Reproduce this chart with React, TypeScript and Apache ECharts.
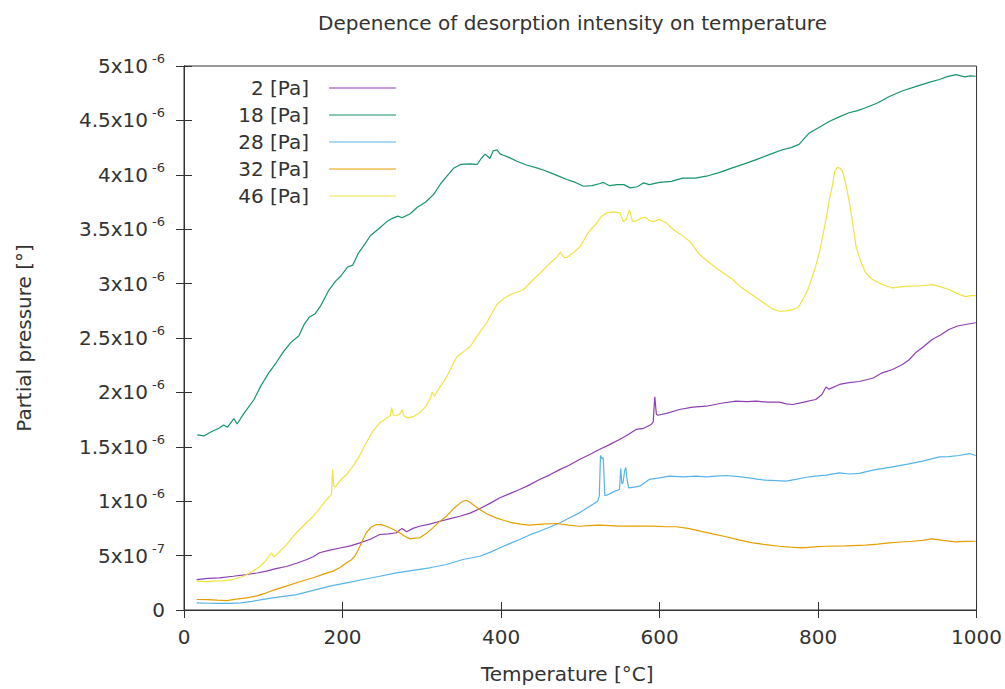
import React, { useEffect, useRef } from "react";
import * as echarts from "echarts";

// Values are in units of 1e-6 (partial pressure), temperatures in °C
const seriesNames = ["2 [Pa]", "18 [Pa]", "28 [Pa]", "32 [Pa]", "46 [Pa]"];
const seriesColors = ["#8e3fb3", "#16956b", "#56b4e9", "#e69f00", "#f0e442"];

const t2 = [16, 30, 45, 62, 79, 92, 104, 116, 129, 142, 155, 163, 171, 184, 197, 210, 222, 235, 247, 258, 268, 275, 281, 289, 297, 310, 323, 336, 348, 361, 373, 386, 398, 411, 423.5, 436, 448.6, 461, 474, 486, 499, 512, 524, 537, 549.5, 560, 570.5, 580, 589.5, 592, 594, 596, 598, 610, 625, 642, 659, 678, 696.5, 710, 722, 736, 751, 760, 768, 782, 797, 805, 810, 814, 827, 839, 852, 869, 881, 894, 906.5, 915, 923, 933, 944, 955, 965, 976, 986, 999];
const v2 = [0.28, 0.29, 0.296, 0.31, 0.326, 0.34, 0.357, 0.38, 0.4, 0.43, 0.464, 0.49, 0.526, 0.55, 0.57, 0.59, 0.617, 0.65, 0.694, 0.7, 0.71, 0.75, 0.72, 0.75, 0.77, 0.79, 0.816, 0.84, 0.862, 0.89, 0.93, 0.98, 1.03, 1.07, 1.108, 1.15, 1.2, 1.24, 1.29, 1.33, 1.383, 1.43, 1.475, 1.52, 1.567, 1.61, 1.66, 1.67, 1.705, 1.73, 1.96, 1.8, 1.79, 1.81, 1.843, 1.865, 1.873, 1.9, 1.919, 1.915, 1.919, 1.91, 1.91, 1.895, 1.889, 1.91, 1.935, 1.98, 2.05, 2.03, 2.073, 2.09, 2.1, 2.13, 2.18, 2.21, 2.256, 2.3, 2.364, 2.42, 2.486, 2.53, 2.578, 2.61, 2.624, 2.64];

const t18 = [16.8, 25, 35, 44, 50, 55, 63, 67, 75, 88, 97, 107, 116, 126, 135, 145, 152, 158, 165, 172, 182, 191, 198, 206, 213, 220, 228, 235, 245, 256, 263, 270, 275, 285, 294, 305, 315, 324, 332, 340, 349, 360, 370, 375, 380, 386, 390, 395, 399, 403, 410, 420, 432, 445, 455, 462, 472, 483, 494, 504, 515, 525, 529, 537, 546, 555, 563, 572, 580, 587, 600, 615, 629, 645, 659, 675, 692, 707, 722, 740, 755, 766, 776, 789, 800, 814, 826, 839, 850, 860, 875, 890, 906, 923, 940, 953, 962, 974, 985, 992, 999];
const v18 = [1.61, 1.6, 1.64, 1.67, 1.7, 1.68, 1.76, 1.71, 1.8, 1.93, 2.06, 2.18, 2.27, 2.38, 2.46, 2.52, 2.63, 2.69, 2.72, 2.79, 2.93, 3.02, 3.07, 3.15, 3.17, 3.28, 3.36, 3.44, 3.5, 3.57, 3.6, 3.62, 3.605, 3.64, 3.7, 3.75, 3.82, 3.92, 3.99, 4.06, 4.095, 4.1, 4.095, 4.15, 4.19, 4.15, 4.22, 4.23, 4.19, 4.18, 4.16, 4.125, 4.09, 4.064, 4.04, 4.02, 3.99, 3.957, 3.93, 3.895, 3.9, 3.92, 3.93, 3.9, 3.91, 3.91, 3.88, 3.89, 3.926, 3.91, 3.93, 3.94, 3.97, 3.97, 3.987, 4.02, 4.064, 4.1, 4.14, 4.19, 4.23, 4.25, 4.28, 4.385, 4.43, 4.49, 4.53, 4.57, 4.59, 4.616, 4.66, 4.72, 4.77, 4.81, 4.85, 4.876, 4.9, 4.92, 4.9, 4.91, 4.906];

const t28 = [16, 30, 44, 58, 72, 86, 100, 121, 142, 163, 184, 205, 226, 247, 268, 289, 310, 331, 352, 373, 386, 398, 411, 423.5, 436, 448.6, 461, 474, 486, 499, 511, 522, 524, 525.5, 527.5, 529, 531, 535, 543, 549.5, 551, 552.5, 554, 556, 557.5, 559, 561, 568, 575, 587, 600, 612.5, 630, 646, 659, 671, 684, 700, 713, 725, 734, 747, 759.5, 772, 785, 797, 810, 827, 840, 852, 869, 881, 894, 913, 932, 953, 965, 978, 991, 999];
const v28 = [0.066, 0.062, 0.06, 0.06, 0.065, 0.08, 0.097, 0.12, 0.142, 0.18, 0.219, 0.25, 0.28, 0.31, 0.342, 0.365, 0.388, 0.418, 0.464, 0.494, 0.53, 0.57, 0.61, 0.648, 0.69, 0.724, 0.76, 0.8, 0.845, 0.893, 0.95, 1.0, 1.05, 1.42, 1.39, 1.4, 1.05, 1.06, 1.09, 1.108, 1.3, 1.16, 1.17, 1.28, 1.31, 1.2, 1.123, 1.13, 1.138, 1.2, 1.215, 1.23, 1.224, 1.23, 1.224, 1.23, 1.236, 1.225, 1.215, 1.2, 1.193, 1.19, 1.184, 1.2, 1.22, 1.23, 1.239, 1.26, 1.25, 1.255, 1.285, 1.3, 1.316, 1.34, 1.368, 1.408, 1.41, 1.42, 1.438, 1.42];

const t32 = [16, 30, 42, 54, 66, 79, 92, 104, 116, 129, 146, 163, 176, 188, 197, 205, 211, 215.5, 219, 222, 226, 230, 236, 242.6, 249, 255.4, 263, 272, 278, 285, 291, 297.5, 305, 314, 322, 331, 340, 348, 352, 356, 360, 364.5, 373, 383, 394, 405, 415, 425, 436, 452, 470, 485, 499, 511, 524, 537, 549.5, 566, 583, 591.5, 608, 621, 636, 650, 667, 684, 700, 717.5, 734, 751, 765, 780.5, 795, 810, 835, 860, 875, 890, 905, 919, 932, 944, 958, 973.5, 986, 999];
const v32 = [0.0965, 0.095, 0.09, 0.087, 0.1, 0.112, 0.13, 0.158, 0.19, 0.219, 0.26, 0.296, 0.33, 0.357, 0.39, 0.434, 0.46, 0.494, 0.54, 0.586, 0.65, 0.71, 0.76, 0.786, 0.785, 0.77, 0.745, 0.71, 0.68, 0.654, 0.66, 0.663, 0.7, 0.755, 0.81, 0.862, 0.93, 0.98, 1.0, 1.009, 0.995, 0.97, 0.924, 0.88, 0.847, 0.82, 0.8, 0.79, 0.78, 0.79, 0.795, 0.78, 0.77, 0.775, 0.78, 0.775, 0.77, 0.77, 0.77, 0.77, 0.765, 0.765, 0.75, 0.728, 0.7, 0.673, 0.645, 0.617, 0.6, 0.586, 0.578, 0.571, 0.58, 0.586, 0.59, 0.596, 0.605, 0.617, 0.625, 0.632, 0.64, 0.654, 0.64, 0.627, 0.63, 0.632];

const t46 = [16, 25, 37, 50, 62, 75, 85, 96, 104, 110.5, 113, 117, 128, 138, 150, 163, 172, 180, 186, 187.5, 189, 191, 197, 205, 213, 221, 230, 238, 247, 255, 260.5, 262, 264, 270, 272, 275.5, 278, 283, 290, 297, 305, 311, 313, 316, 322, 332, 338, 344.5, 352, 361, 370, 382, 388, 395, 403, 412, 420, 428.5, 441, 450, 462, 470, 475, 479, 483, 492, 500, 510, 520, 527, 533.5, 541, 550, 554.5, 558, 562, 566, 572, 576, 582, 587, 592, 600, 608, 617, 627, 638, 650, 660, 671, 682, 692, 702, 713, 724, 734, 742, 751, 760, 768, 775, 780.5, 787, 793, 797, 801.5, 806, 810, 814, 818, 821, 824.5, 828, 831, 835, 839, 843, 848, 854, 860, 868, 877, 885, 894, 903, 915, 930, 944, 955, 965, 975, 986, 993, 999];
const v46 = [0.265, 0.26, 0.265, 0.27, 0.28, 0.31, 0.35, 0.4, 0.46, 0.526, 0.49, 0.51, 0.59, 0.68, 0.77, 0.862, 0.94, 1.016, 1.06, 1.29, 1.14, 1.13, 1.19, 1.245, 1.32, 1.41, 1.537, 1.64, 1.72, 1.76, 1.79, 1.86, 1.79, 1.79, 1.8, 1.84, 1.78, 1.766, 1.78, 1.81, 1.87, 1.95, 2.0, 1.965, 2.04, 2.15, 2.24, 2.33, 2.37, 2.42, 2.52, 2.64, 2.72, 2.81, 2.86, 2.9, 2.92, 2.946, 3.04, 3.1, 3.19, 3.24, 3.29, 3.24, 3.24, 3.29, 3.34, 3.47, 3.55, 3.62, 3.65, 3.66, 3.65, 3.57, 3.59, 3.68, 3.57, 3.58, 3.6, 3.61, 3.58, 3.57, 3.59, 3.56, 3.5, 3.45, 3.39, 3.27, 3.21, 3.145, 3.09, 3.04, 2.97, 2.915, 2.86, 2.81, 2.77, 2.746, 2.75, 2.76, 2.78, 2.85, 2.94, 3.07, 3.16, 3.28, 3.44, 3.59, 3.76, 3.895, 4.03, 4.07, 4.06, 4.03, 3.92, 3.77, 3.59, 3.34, 3.2, 3.1, 3.04, 3.007, 2.98, 2.96, 2.97, 2.976, 2.98, 2.99, 2.97, 2.946, 2.91, 2.88, 2.89, 2.89];

const seriesT = [t2, t18, t28, t32, t46];
const seriesV = [v2, v18, v28, v32, v46];

// y tick labels: mantissa and exponent (0 has no exponent)
const yTickMantissa = ["0", "5", "1", "1.5", "2", "2.5", "3", "3.5", "4", "4.5", "5"];
const yTickExponent = ["", "-7", "-6", "-6", "-6", "-6", "-6", "-6", "-6", "-6", "-6"];

const titleText = "Depenence of desorption intensity on temperature";
const xName = "Temperature [°C]";
const yName = "Partial pressure [°]";

const FONT = "DejaVu Sans";
const TXT = "#333333";

export default function App() {
  const ref = useRef<HTMLDivElement>(null);
  useEffect(() => {
    if (!ref.current) return;
    const chart = echarts.init(ref.current, undefined, { renderer: "svg" });

    const series = seriesNames.map((name, i) => ({
      name,
      type: "line",
      xAxisIndex: 0,
      yAxisIndex: 0,
      showSymbol: false,
      symbol: "none",
      color: seriesColors[i],
      lineStyle: { width: 1.2, color: seriesColors[i] },
      data: seriesT[i].map((t, k) => [t, seriesV[i][k]]),
    }));

    const legendGraphics: any[] = [];
    seriesNames.forEach((name, i) => {
      const y = 88 + 27 * i;
      legendGraphics.push({
        type: "text",
        x: 309,
        y,
        style: {
          text: name,
          fill: TXT,
          font: `20px "${FONT}"`,
          textAlign: "right",
          textVerticalAlign: "middle",
        },
      });
      legendGraphics.push({
        type: "line",
        shape: { x1: 329, y1: y, x2: 396, y2: y },
        style: { stroke: seriesColors[i], lineWidth: 1.2 },
      });
    });

    const tickStyle = { show: true, inside: true, length: 8, lineStyle: { color: TXT, width: 1 } };

    chart.setOption({
      animation: false,
      backgroundColor: "#ffffff",
      title: {
        text: titleText,
        left: 313,
        top: 8,
        textStyle: { fontFamily: FONT, fontSize: 20, fontWeight: "normal", color: TXT },
      },
      grid: {
        left: 184,
        top: 66,
        right: 28,
        bottom: 78.5,
        show: true,
        borderColor: TXT,
        borderWidth: 1,
      },
      xAxis: [
        {
          type: "value",
          min: 0,
          max: 1000,
          interval: 200,
          position: "bottom",
          name: xName,
          nameLocation: "middle",
          nameGap: 54,
          nameTextStyle: { fontFamily: FONT, fontSize: 20, color: TXT, padding: [0, 26, 0, 0] },
          axisLine: { show: true, lineStyle: { color: TXT, width: 1 } },
          axisTick: tickStyle,
          splitLine: { show: false },
          axisLabel: {
            fontFamily: FONT,
            fontSize: 20,
            color: TXT,
            margin: 17,
            formatter: (v: number) => String(v),
          },
        },
        {
          type: "value",
          min: 0,
          max: 1000,
          interval: 200,
          position: "top",
          axisLine: { show: true, lineStyle: { color: TXT, width: 1 } },
          axisTick: tickStyle,
          splitLine: { show: false },
          axisLabel: { show: false },
        },
      ],
      yAxis: [
        {
          type: "value",
          min: 0,
          max: 5,
          interval: 0.5,
          position: "left",
          name: yName,
          nameLocation: "middle",
          nameGap: 150,
          nameTextStyle: { fontFamily: FONT, fontSize: 20, color: TXT },
          axisLine: { show: true, lineStyle: { color: TXT, width: 1 } },
          axisTick: tickStyle,
          splitLine: { show: false },
          axisLabel: {
            margin: 19,
            formatter: (val: number) => {
              const idx = Math.round(val / 0.5);
              const m = yTickMantissa[idx] ?? "";
              const e = yTickExponent[idx] ?? "";
              return e ? `{m|${m}x10}{e|${e}}` : `{m|${m}}`;
            },
            rich: {
              m: { fontFamily: FONT, fontSize: 20, color: TXT, lineHeight: 28 },
              e: { fontFamily: FONT, fontSize: 13, color: TXT, lineHeight: 13, verticalAlign: "top", padding: [0, 0, 0, 4] },
            },
          },
        },
        {
          type: "value",
          min: 0,
          max: 5,
          interval: 0.5,
          position: "right",
          axisLine: { show: true, lineStyle: { color: TXT, width: 1 } },
          axisTick: tickStyle,
          splitLine: { show: false },
          axisLabel: { show: false },
        },
      ],
      series,
      graphic: legendGraphics,
    });

    return () => chart.dispose();
  }, []);

  return (
    <div
      ref={ref}
      style={{ position: "fixed", left: 0, top: 0, width: 1005, height: 689, background: "#fff" }}
    />
  );
}
